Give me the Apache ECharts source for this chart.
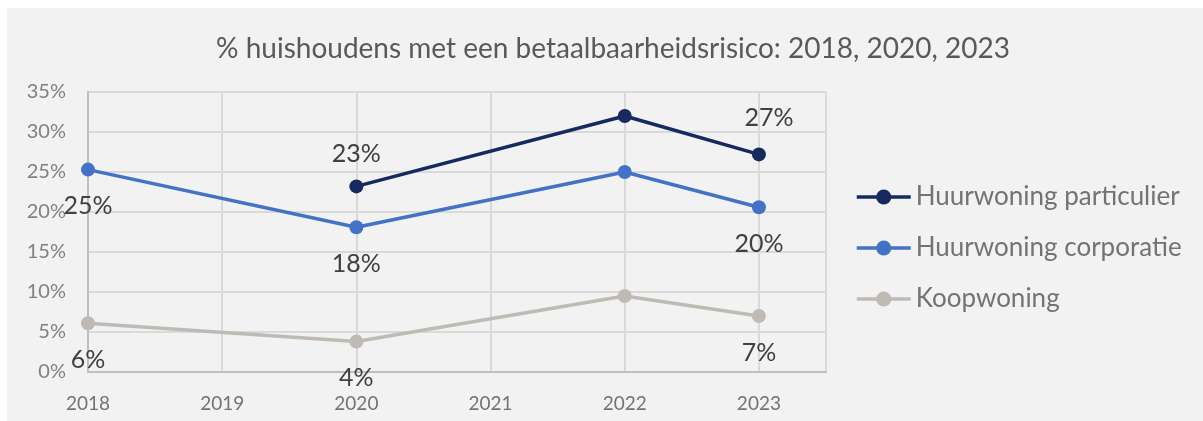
<!DOCTYPE html>
<html>
<head>
<meta charset="utf-8">
<script src="https://cdn.jsdelivr.net/npm/echarts@6/dist/echarts.min.js"></script>
<style>
html,body{margin:0;padding:0;background:#ffffff;}
#chart{width:1203px;height:421px;}
</style>
</head>
<body>
<div id="chart"></div>
<script>
const titleText = '% huishoudens met een betaalbaarheidsrisico: 2018, 2020, 2023';
const years = [2018, 2020, 2022, 2023];
const seriesNames = ['Huurwoning particulier', 'Huurwoning corporatie', 'Koopwoning'];
const particulier = [null, 23.2, 32.0, 27.2];
const corporatie = [25.3, 18.1, 25.0, 20.6];
const koopwoning = [6.1, 3.8, 9.5, 7.0];
const particulierLabels = ['', '23%', '', '27%'];
const corporatieLabels = ['25%', '18%', '', '20%'];
const koopLabels = ['6%', '4%', '', '7%'];
const yTicks = [0, 5, 10, 15, 20, 25, 30, 35];

const FONT = 'Lato, "Open Sans", sans-serif';
const colors = ['#172a5e', '#4472c4', '#c0bab5'];

function build(values, labels, pos, offset) {
  return years.map((y, i) => {
    const item = { value: [y, values[i]] };
    if (labels[i]) {
      item.label = {
        show: true,
        position: pos,
        distance: pos === 'top' ? 13 : 17,
        offset: offset(i),
        formatter: labels[i],
        fontSize: 25,
        color: '#404040',
        fontFamily: FONT
      };
    }
    return item;
  });
}

const chart = echarts.init(document.getElementById('chart'));
chart.setOption({
  animation: false,
  backgroundColor: '#ffffff',
  graphic: [{
    type: 'rect',
    z: -10,
    shape: { x: 7, y: 8, width: 1196, height: 413 },
    style: { fill: '#f2f2f2' }
  }],
  title: {
    text: titleText,
    left: 608,
    top: 30,
    textAlign: 'center',
    textStyle: { fontFamily: FONT, fontSize: 28, fontWeight: 'normal', color: '#595959' }
  },
  legend: {
    orient: 'vertical',
    left: 850,
    top: 179,
    itemWidth: 54,
    itemHeight: 19,
    itemGap: 25,
    lineStyle: { width: 3.5 },
    textStyle: { fontFamily: FONT, fontSize: 26, color: '#737373', lineHeight: 26 },
    data: seriesNames
  },
  grid: { left: 88, top: 92, width: 738, height: 280, containLabel: false },
  xAxis: {
    type: 'value',
    min: 2018,
    max: 2023.5,
    interval: 1,
    axisLine: { show: true, lineStyle: { color: '#bfbfbf', width: 2 } },
    axisTick: { show: false },
    splitLine: { show: true, lineStyle: { color: '#d9d9d9', width: 2 } },
    axisLabel: {
      margin: 22,
      fontFamily: FONT, fontSize: 19, color: '#737373',
      formatter: v => (Number.isInteger(v) ? String(v) : '')
    }
  },
  yAxis: {
    type: 'value',
    min: yTicks[0],
    max: yTicks[yTicks.length - 1],
    interval: 5,
    axisLine: { show: true, lineStyle: { color: '#bfbfbf', width: 2 } },
    axisTick: { show: false },
    splitLine: { show: true, lineStyle: { color: '#d9d9d9', width: 2 } },
    axisLabel: {
      margin: 22,
      fontFamily: FONT, fontSize: 20, color: '#808080',
      formatter: v => v + '%'
    }
  },
  series: [
    {
      name: seriesNames[0], type: 'line', color: colors[0],
      symbol: 'circle', symbolSize: 14, lineStyle: { width: 3.5 },
      data: build(particulier, particulierLabels, 'top', i => (i === 3 ? [10, -4] : [0, 0]))
    },
    {
      name: seriesNames[1], type: 'line', color: colors[1],
      symbol: 'circle', symbolSize: 14, lineStyle: { width: 3.5 },
      data: build(corporatie, corporatieLabels, 'bottom', () => [0, 0])
    },
    {
      name: seriesNames[2], type: 'line', color: colors[2],
      symbol: 'circle', symbolSize: 14, lineStyle: { width: 3.5 },
      data: build(koopwoning, koopLabels, 'bottom', () => [0, 0])
    }
  ]
});
</script>
</body>
</html>
